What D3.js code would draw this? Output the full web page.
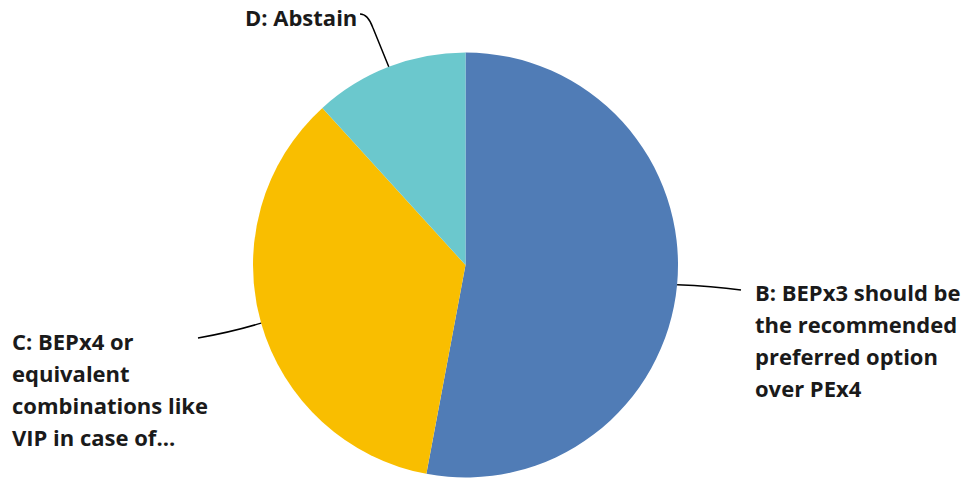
<!DOCTYPE html>
<html>
<head>
<meta charset="utf-8">
<script src="https://cdn.jsdelivr.net/npm/d3@7"></script>
<style>
  html, body { margin: 0; padding: 0; background: #fff; }
  svg text { font-family: "Open Sans", Roboto, sans-serif; font-weight: 700; fill: #1a1a1a; }
</style>
</head>
<body>
<svg id="chart" width="966" height="479"></svg>
<script>
const categories = ["B: BEPx3 should be the recommended preferred option over PEx4",
                    "C: BEPx4 or equivalent combinations like VIP in case of...",
                    "D: Abstain"];
const labelLines = [
  ["B: BEPx3 should be", "the recommended", "preferred option", "over PEx4"],
  ["C: BEPx4 or", "equivalent", "combinations like", "VIP in case of..."],
  ["D: Abstain"]
];
const values = [52.94, 35.29, 11.76];
const colors = ["#507cb6", "#f9be00", "#6bc8cd"];

const svg = d3.select("#chart");
const cx = 465.5, cy = 265, R = 212.5;
const g = svg.append("g").attr("transform", `translate(${cx},${cy})`);

const pie = d3.pie().sort(null).value(d => d.v);
const data = categories.map((c, i) => ({c, v: values[i], i}));
const arcs = pie(data);
const arc = d3.arc().innerRadius(0).outerRadius(R);

g.selectAll("path.slice").data(arcs).join("path")
  .attr("class", "slice")
  .attr("d", arc)
  .attr("fill", d => colors[d.data.i]);

// label placement (layout)
const labelPos = [
  {x: 755, y: 301, anchor: "start", lineEnd: [741, 290], ctrl: [712, 286]},
  {x: 12, y: 350, anchor: "start", lineEnd: [198, 338], ctrl: [232, 332]},
  {x: 245, y: 26, anchor: "start", lineEnd: [360, 14], ctrl: [368, 14], mid: [373, 28]}
];
const lh = 32;

arcs.forEach((a, k) => {
  const mid = (a.startAngle + a.endAngle) / 2;
  const ex = cx + R * Math.sin(mid), ey = cy - R * Math.cos(mid);
  const lp = labelPos[k];
  let d;
  if (lp.mid) {
    d = `M${ex},${ey} L${lp.mid[0]},${lp.mid[1]} Q${lp.ctrl[0]},${lp.ctrl[1]} ${lp.lineEnd[0]},${lp.lineEnd[1]}`;
  } else {
    d = `M${ex},${ey} Q${lp.ctrl[0]},${lp.ctrl[1]} ${lp.lineEnd[0]},${lp.lineEnd[1]}`;
  }
  svg.append("path").attr("d", d).attr("fill", "none").attr("stroke", "#000").attr("stroke-width", 1.5);
  const t = svg.append("text").attr("x", lp.x).attr("y", lp.y).attr("text-anchor", lp.anchor)
    .style("font-size", "22px");
  labelLines[k].forEach((ln, j) => {
    t.append("tspan").attr("x", lp.x).attr("y", lp.y + j * lh).text(ln);
  });
});
</script>
</body>
</html>
